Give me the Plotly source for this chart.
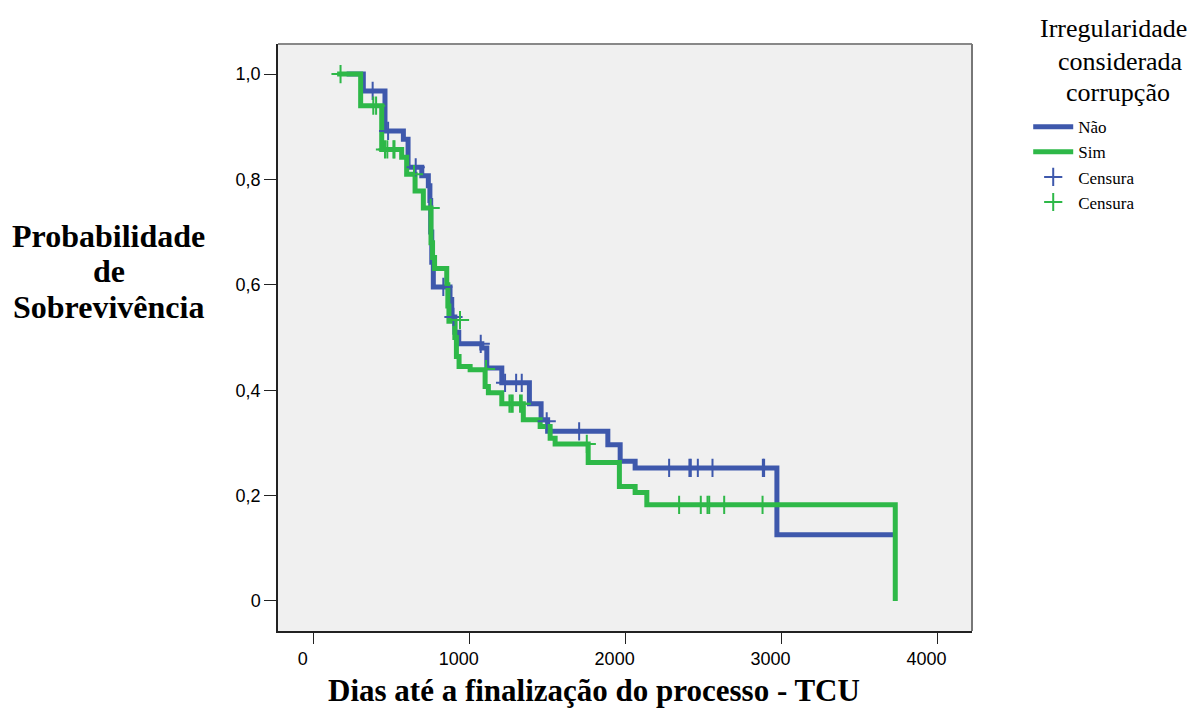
import plotly.graph_objects as go

# ---------------- data ----------------
nao_time = [211, 318, 457, 575, 605, 693, 735, 745, 750, 757, 767, 874, 885, 905, 930,
            1078, 1110, 1206, 1383, 1458, 1500, 1886, 1965, 2061, 2970, 3725]
nao_surv = [1.0, 0.968, 0.892, 0.876, 0.823, 0.807, 0.788, 0.76, 0.70, 0.643, 0.596, 0.572,
            0.539, 0.51, 0.488, 0.48, 0.442, 0.414, 0.3745, 0.344, 0.322, 0.2966, 0.265,
            0.2525, 0.1255, 0.1255]

sim_time = [150, 301, 436, 564, 596, 650, 703, 752, 762, 775, 853, 860, 867, 905, 915, 932,
            1003, 1099, 1120, 1206, 1344, 1452, 1516, 1548, 1760, 1960, 2061, 2136, 3729]
sim_surv = [1.0, 0.94, 0.857, 0.842, 0.81, 0.778, 0.746, 0.68, 0.652, 0.631, 0.60, 0.56,
            0.531, 0.50, 0.464, 0.445, 0.439, 0.407, 0.395, 0.3745, 0.344, 0.331, 0.309,
            0.298, 0.263, 0.217, 0.206, 0.1825, 0.0]

nao_cens_time = [378, 477, 654, 831, 896, 1071, 1227, 1298, 1334, 1494, 1702,
                 2279, 2409, 2418, 2463, 2557, 2880, 2888]
nao_cens_surv = [0.968, 0.892, 0.823, 0.596, 0.539, 0.488, 0.414, 0.414, 0.414, 0.341, 0.322,
                 0.2525, 0.2525, 0.2525, 0.2525, 0.2525, 0.2525, 0.2525]

sim_cens_time = [172, 382, 400, 457, 472, 511, 518, 643, 750, 938, 1105,
                 1255, 1266, 1276, 1323, 1334, 1751,
                 2343, 2482, 2525, 2536, 2632, 2878]
sim_cens_surv = [1.0, 0.94, 0.94, 0.857, 0.857, 0.857, 0.857, 0.81, 0.746, 0.533, 0.44,
                 0.3745, 0.3745, 0.3745, 0.3745, 0.3745, 0.298,
                 0.1825, 0.1825, 0.1825, 0.1825, 0.1825, 0.1825]

x_ticks = [0, 1000, 2000, 3000, 4000]
y_ticks = [0, 0.2, 0.4, 0.6, 0.8, 1.0]
y_ticktext = ["0", "0,2", "0,4", "0,6", "0,8", "1,0"]

group_names = ["Não", "Sim"]
censor_name = "Censura"
legend_title_lines = ["Irregularidade", "considerada", "corrupção"]
y_title_lines = ["Probabilidade", "de", "Sobrevivência"]
x_title = "Dias até a finalização do processo - TCU"

BLUE = "#3E58AC"
GREEN = "#2EB848"
SERIF = "Liberation Serif, Times New Roman, serif"
SANS = "Liberation Sans, Arial, sans-serif"

fig = go.Figure()
fig.add_trace(go.Scatter(x=nao_time, y=nao_surv, mode="lines", line_shape="hv",
                         line=dict(color=BLUE, width=5), name=group_names[0]))
fig.add_trace(go.Scatter(x=sim_time, y=sim_surv, mode="lines", line_shape="hv",
                         line=dict(color=GREEN, width=5), name=group_names[1]))
fig.add_trace(go.Scatter(x=nao_cens_time, y=nao_cens_surv, mode="markers", name=censor_name,
                         marker=dict(symbol="cross-thin", size=13,
                                     line=dict(color=BLUE, width=2), color=BLUE)))
fig.add_trace(go.Scatter(x=sim_cens_time, y=sim_cens_surv, mode="markers", name=censor_name,
                         marker=dict(symbol="cross-thin", size=13,
                                     line=dict(color=GREEN, width=2), color=GREEN)))

annotations = []
# y-axis title (three centred lines, horizontal)
for txt, yy in zip(y_title_lines, [0.6734, 0.6138, 0.5514]):
    annotations.append(dict(text="<b>" + txt + "</b>", xref="paper", yref="paper",
                            x=-0.2442, y=yy, xanchor="center", yanchor="middle",
                            showarrow=False, font=dict(family=SERIF, size=32, color="black")))
# x-axis title
annotations.append(dict(text="<b>" + x_title + "</b>", xref="paper", yref="paper",
                        x=0.4553, y=-0.1022, xanchor="center", yanchor="middle",
                        showarrow=False, font=dict(family=SERIF, size=31, color="black")))
# legend title (three centred lines)
for txt, xx, yy in zip(legend_title_lines, [1.2046, 1.2133, 1.2104], [1.027, 0.971, 0.917]):
    annotations.append(dict(text=txt, xref="paper", yref="paper", x=xx, y=yy,
                            xanchor="center", yanchor="middle", showarrow=False,
                            font=dict(family=SERIF, size=26, color="black")))

fig.update_layout(
    width=1191, height=708,
    margin=dict(l=278, r=219, t=44, b=77, autoexpand=False),
    paper_bgcolor="white",
    plot_bgcolor="#F0F0F0",
    showlegend=True,
    legend=dict(
        x=1.081, xanchor="left", y=0.889, yanchor="top",
        bgcolor="rgba(0,0,0,0)",
        itemwidth=40,
        font=dict(family=SERIF, size=17, color="black"),
    ),
    xaxis=dict(
        range=[-229, 4221], tickvals=x_ticks, ticks="outside", ticklen=11,
        tickcolor="#222", tickwidth=1, showgrid=False, zeroline=False,
        showline=True, linecolor="#222", linewidth=1.5,
        tickfont=dict(family=SANS, size=18, color="black"),
        ticklabelshift=-11,
    ),
    yaxis=dict(
        range=[-0.057, 1.057], tickvals=y_ticks, ticktext=y_ticktext, ticks="outside",
        ticklen=12, tickcolor="#222", tickwidth=1, showgrid=False, zeroline=False,
        showline=True, linecolor="#222", linewidth=1.5,
        tickfont=dict(family=SANS, size=18, color="black"),
    ),
    shapes=[
        dict(type="line", xref="paper", yref="paper", x0=0, x1=1, y0=1, y1=1,
             line=dict(color="#888", width=2)),
        dict(type="line", xref="paper", yref="paper", x0=1, x1=1, y0=0, y1=1,
             line=dict(color="#777", width=2)),
    ],
    annotations=annotations,
)

fig.write_html("out.html", config={"displayModeBar": False},
               post_script="document.body.style.margin='0';document.body.style.overflow='hidden';")
